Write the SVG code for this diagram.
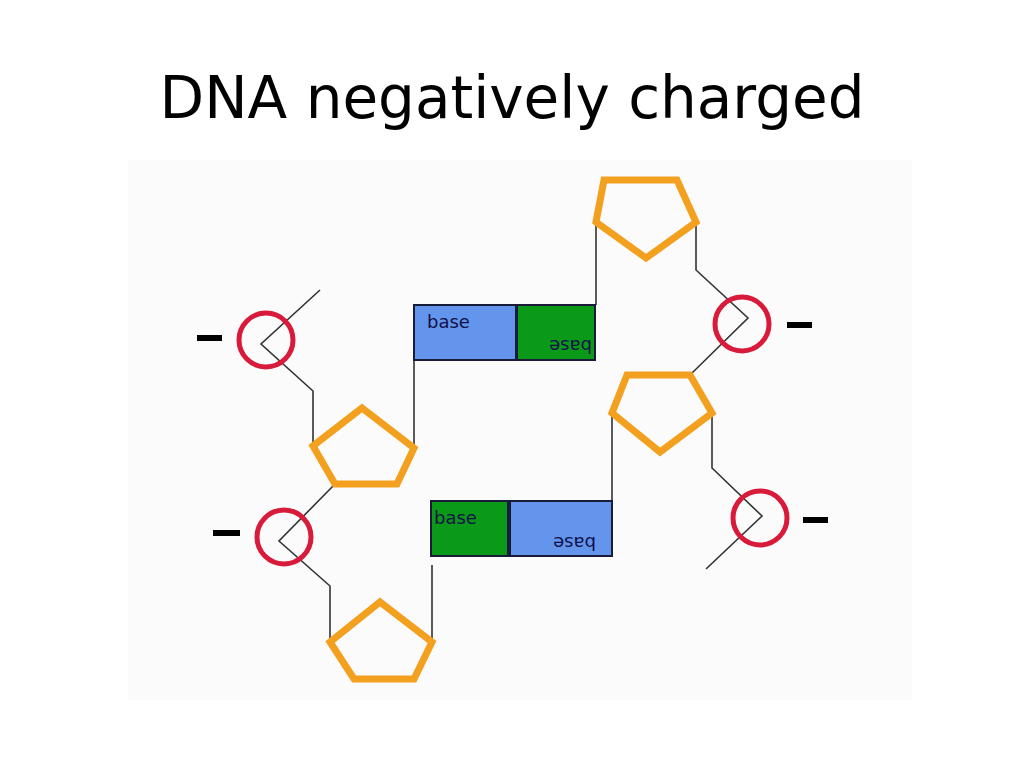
<svg xmlns="http://www.w3.org/2000/svg" width="1024" height="768" viewBox="0 0 1024 768">
<style>
.p{fill:none;stroke:#f2a01e;stroke-width:7;stroke-linejoin:miter}
.c{fill:none;stroke:#d81b3a;stroke-width:5}
.l{fill:none;stroke:#333;stroke-width:1.6}
.m{stroke:#000;stroke-width:6}
.bx{stroke:#1a1a3a;stroke-width:2}
.t{font-family:"DejaVu Sans",sans-serif;font-size:18px;fill:#10104a}
</style>
<rect width="1024" height="768" fill="#fff"/>
<rect x="128" y="160" width="784" height="540" fill="#fbfbfb"/>
<text x="512" y="118" text-anchor="middle" font-family="DejaVu Sans, sans-serif" font-size="58" fill="#000">DNA negatively charged</text>
<g id="connectors">
<polyline class="l" points="320,290 261,344 313,391 313,446"/>
<line class="l" x1="414" y1="448" x2="414" y2="360"/>
<polyline class="l" points="335,484 279,541 330,586 330,642"/>
<line class="l" x1="432" y1="642" x2="432" y2="565"/>
<line class="l" x1="596" y1="222" x2="596" y2="305"/>
<polyline class="l" points="696,222 696,270 748,318 690,375"/>
<line class="l" x1="612" y1="413" x2="612" y2="501"/>
<polyline class="l" points="712,413 712,468 762,516 706,569"/>
</g>
<g id="phosphate1"><circle class="c" cx="266" cy="340" r="27"/><line class="m" x1="197" y1="338" x2="222" y2="338"/></g>
<g id="phosphate2"><circle class="c" cx="284" cy="537" r="27"/><line class="m" x1="213" y1="533" x2="240" y2="533"/></g>
<g id="phosphate3"><circle class="c" cx="742" cy="324" r="27"/><line class="m" x1="787" y1="325" x2="812" y2="325"/></g>
<g id="phosphate4"><circle class="c" cx="760" cy="518" r="27"/><line class="m" x1="803" y1="520" x2="828" y2="520"/></g>
<g id="sugar1"><polygon class="p" points="362,408 414,448 397,484 335,484 313,446"/></g>
<g id="sugar2"><polygon class="p" points="380,602 432,642 414,679 354,679 330,642"/></g>
<g id="sugar3"><polygon class="p" points="604,180 677,180 696,222 646,258 596,222"/></g>
<g id="sugar4"><polygon class="p" points="627,375 690,375 712,413 660,452 612,413"/></g>
<g id="base1"><rect class="bx" x="414" y="305" width="102" height="55" fill="#6495ed"/><text class="t" x="427" y="328">base</text></g>
<g id="base2"><rect class="bx" x="517" y="305" width="78" height="55" fill="#0b9a18"/><text class="t" transform="translate(592,340) rotate(180)">base</text></g>
<g id="base3"><rect class="bx" x="431" y="501" width="77" height="55" fill="#0b9a18"/><text class="t" x="434" y="524">base</text></g>
<g id="base4"><rect class="bx" x="510" y="501" width="102" height="55" fill="#6495ed"/><text class="t" transform="translate(596,537) rotate(180)">base</text></g>
</svg>
